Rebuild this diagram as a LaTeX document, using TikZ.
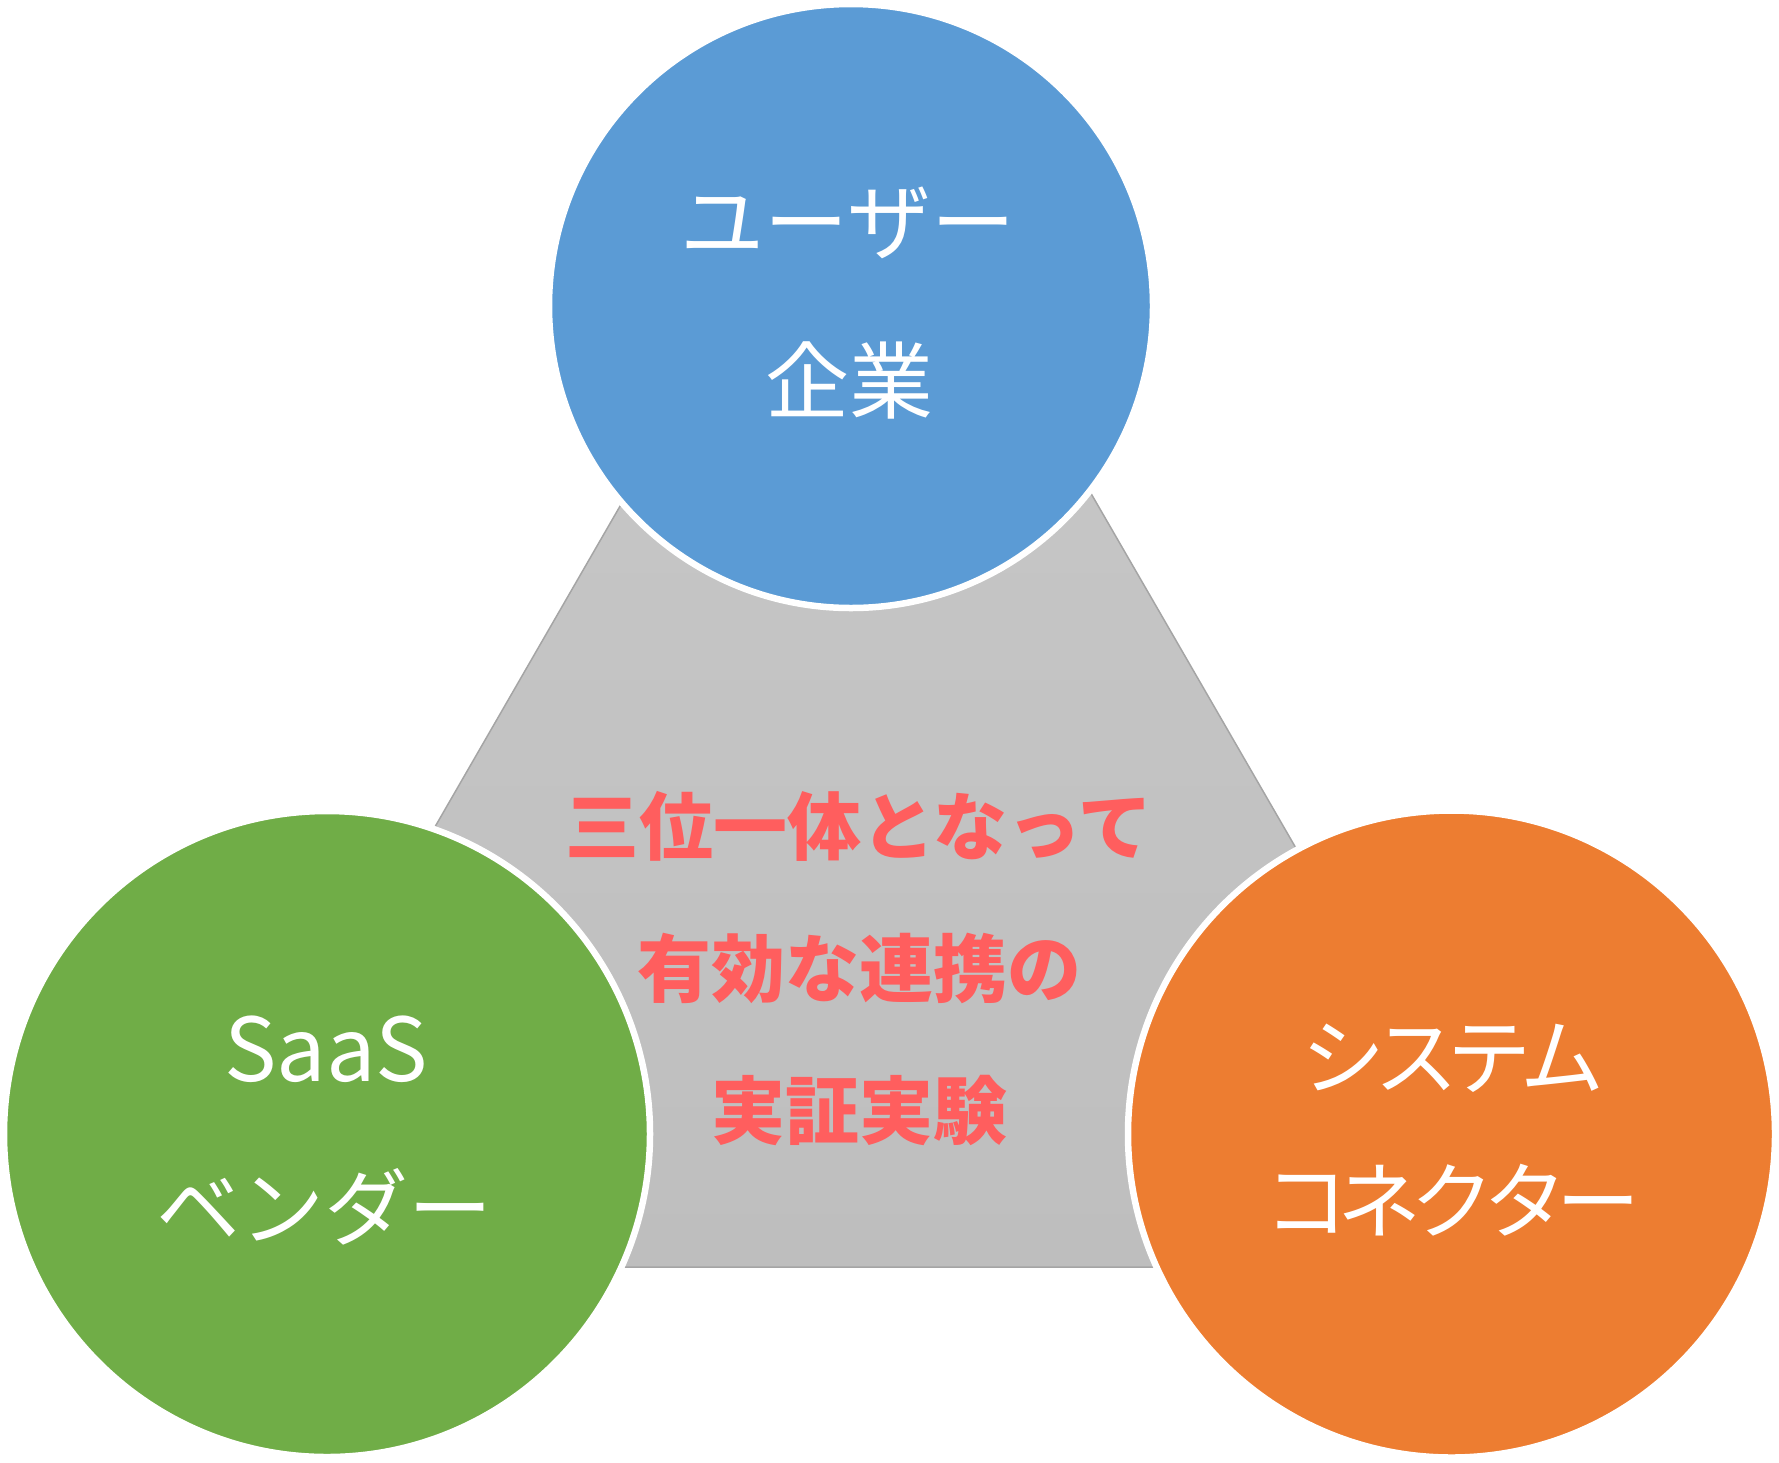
\documentclass[tikz,border=0pt]{standalone}
\usepackage{fontspec}
\setmainfont{Noto Sans CJK JP}
\definecolor{cblue}{HTML}{5B9BD5}
\definecolor{cgreen}{HTML}{70AD47}
\definecolor{corange}{HTML}{ED7D31}
\definecolor{ctop}{HTML}{C9C9C9}
\definecolor{cbot}{HTML}{BEBEBE}
\definecolor{cedge}{HTML}{A5A5A5}
\definecolor{cred}{HTML}{FF5E5E}
\newcommand{\tk}{\kern-11pt}
\begin{document}
\begin{tikzpicture}[x=1pt,y=-1pt,
  bubble/.style={circle,draw=white,line width=6.5pt,inner sep=0pt,outer sep=0pt},
  wt/.style={text=white,inner sep=0pt,font=\fontsize{84}{100}\selectfont},
  rt/.style={text=cred,inner sep=0pt,font=\fontsize{74}{90}\selectfont\bfseries},
  tri/.style={draw=cedge,line width=1.5pt,top color=ctop,bottom color=cbot,line join=miter}]
\useasboundingbox (0,0) rectangle (1779,1462);
\coordinate (ta) at (859,92);
\coordinate (tl) at (181,1267);
\coordinate (tr) at (1538,1267);
\path[tri] (ta) -- (tl) -- (tr) -- cycle;
\node[bubble,fill=cblue,minimum size=604pt] (user) at (851,306) {};
\node[bubble,fill=cgreen,minimum size=646pt] (saas) at (327,1134) {};
\node[bubble,fill=corange,minimum size=647pt] (sys) at (1451.5,1134) {};
\node[wt] (u1) at (848,223) {ユーザー};
\node[wt] (u2) at (849,380) {企業};
\node[wt,font=\fontsize{88}{100}\selectfont] (s1) at (326,1049) {SaaS};
\node[wt] (s2) at (324,1207) {ベンダー};
\node[wt] (c1) at (1453,1058) {シ\tk ス\tk テ\tk ム};
\node[wt] (c2) at (1452,1200) {コ\tk ネ\tk ク\tk タ\tk ー};
\node[rt] (m1) at (859,826) {三位一体となって};
\node[rt] (m2) at (859,968) {有効な連携の};
\node[rt] (m3) at (859,1110) {実証実験};
\end{tikzpicture}
\end{document}
